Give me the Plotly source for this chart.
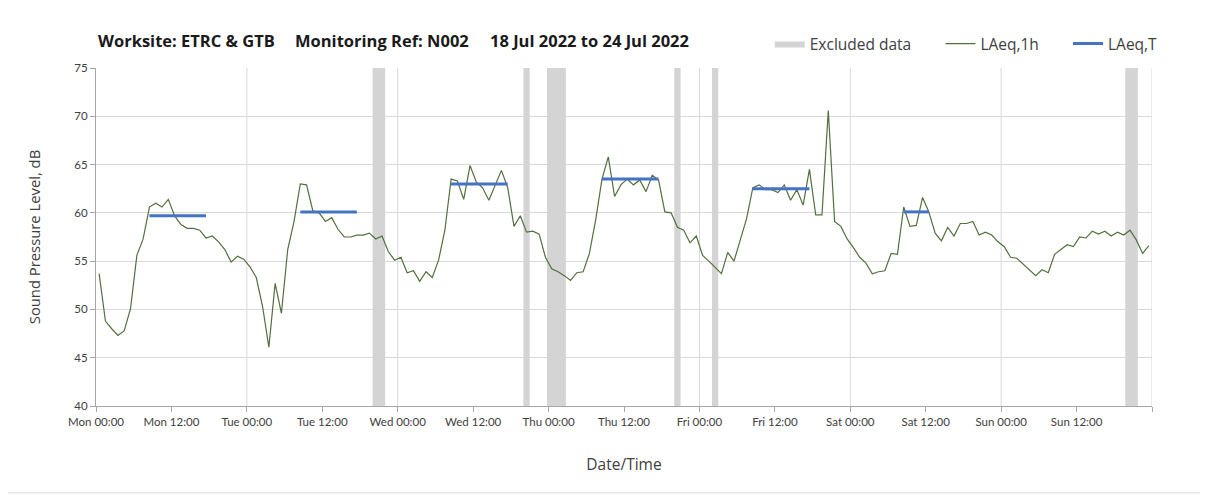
import pandas as pd
import plotly.graph_objects as go

# ---------------- data ----------------
start_time = "2022-07-18 00:30"   # first hourly LAeq,1h point (mid-hour)

laeq_1h_mon = [53.7, 48.8, 48.0, 47.3, 47.8, 50.1, 55.6, 57.3, 60.6, 61.0, 60.6, 61.4,
               59.7, 58.8, 58.4, 58.4, 58.2, 57.4, 57.6, 57.0, 56.2, 54.9, 55.5, 55.2]
laeq_1h_tue = [54.4, 53.3, 50.3, 46.1, 52.7, 49.6, 56.2, 59.1, 63.0, 62.9, 60.2, 60.0,
               59.1, 59.5, 58.3, 57.5, 57.5, 57.7, 57.7, 57.9, 57.3, 57.6, 56.0, 55.1]
laeq_1h_wed = [55.4, 53.8, 54.0, 52.9, 53.9, 53.3, 55.1, 58.2, 63.5, 63.3, 61.4, 64.9,
               63.2, 62.6, 61.3, 62.8, 64.4, 62.6, 58.6, 59.7, 58.0, 58.1, 57.8, 55.4]
laeq_1h_thu = [54.2, 53.9, 53.5, 53.0, 53.8, 53.9, 55.8, 59.3, 63.5, 65.8, 61.7, 62.9,
               63.5, 62.9, 63.4, 62.2, 63.9, 63.4, 60.1, 60.0, 58.5, 58.2, 56.9, 57.6]
laeq_1h_fri = [55.6, 55.0, 54.4, 53.7, 55.9, 55.0, 57.2, 59.4, 62.6, 62.9, 62.4, 62.4,
               62.1, 62.9, 61.3, 62.4, 60.8, 64.5, 59.8, 59.8, 70.6, 59.1, 58.6, 57.3]
laeq_1h_sat = [56.4, 55.4, 54.8, 53.7, 53.9, 54.0, 55.8, 55.7, 60.6, 58.6, 58.7, 61.6,
               60.1, 57.9, 57.1, 58.5, 57.6, 58.9, 58.9, 59.1, 57.7, 58.0, 57.7, 57.0]
laeq_1h_sun = [56.5, 55.4, 55.3, 54.7, 54.0, 53.5, 54.1, 53.8, 55.7, 56.2, 56.7, 56.5,
               57.5, 57.4, 58.1, 57.8, 58.1, 57.6, 58.0, 57.7, 58.2, 57.2, 55.8, 56.6]

laeq_t_start = ["2022-07-18 08:30", "2022-07-19 08:30", "2022-07-20 08:30",
                "2022-07-21 08:30", "2022-07-22 08:30", "2022-07-23 08:30"]
laeq_t_end = ["2022-07-18 17:30", "2022-07-19 17:30", "2022-07-20 17:30",
              "2022-07-21 17:30", "2022-07-22 17:30", "2022-07-23 12:30"]
laeq_t_values = [59.7, 60.1, 63.0, 63.5, 62.5, 60.1]

excl_start = ["2022-07-19 20:00", "2022-07-20 20:00", "2022-07-20 23:45",
              "2022-07-21 20:00", "2022-07-22 02:00", "2022-07-24 19:45"]
excl_end = ["2022-07-19 22:00", "2022-07-20 21:00", "2022-07-21 02:45",
            "2022-07-21 21:00", "2022-07-22 03:00", "2022-07-24 21:45"]

tick_labels = ["Mon 00:00", "Mon 12:00", "Tue 00:00", "Tue 12:00", "Wed 00:00",
               "Wed 12:00", "Thu 00:00", "Thu 12:00", "Fri 00:00", "Fri 12:00",
               "Sat 00:00", "Sat 12:00", "Sun 00:00", "Sun 12:00", ""]

axis_start = "2022-07-18 00:00"
axis_end = "2022-07-25 00:00"
y_min, y_max = 40, 75

title_parts = ["Worksite: ETRC &amp; GTB", "Monitoring Ref: N002",
               "18 Jul 2022 to 24 Jul 2022"]

# ---------------- build ----------------
laeq_1h = (laeq_1h_mon + laeq_1h_tue + laeq_1h_wed + laeq_1h_thu +
           laeq_1h_fri + laeq_1h_sat + laeq_1h_sun)
times = pd.date_range(start_time, periods=len(laeq_1h), freq="h")
tick_vals = pd.date_range(axis_start, periods=len(tick_labels), freq="12h")

ex_x, ex_y = [], []
for s, e in zip(excl_start, excl_end):
    ex_x += [s, e, e, s, s, None]
    ex_y += [y_min, y_min, y_max, y_max, y_min, None]

t_x, t_y = [], []
for s, e, v in zip(laeq_t_start, laeq_t_end, laeq_t_values):
    t_x += [s, e, None]
    t_y += [v, v, None]

TFONT = "Lato"
FONT = "Open Sans"
GRID = "#d9d9d9"
AXIS = "#a6a6a6"
NB = "\u00a0"

fig = go.Figure()
fig.add_trace(go.Scatter(x=ex_x, y=ex_y, mode="lines", fill="toself",
                         fillcolor="#d4d4d4", line=dict(width=0, color="#d4d4d4"),
                         name="Excluded data" + NB * 6, hoverinfo="skip"))
fig.add_trace(go.Scatter(x=times, y=laeq_1h, mode="lines",
                         line=dict(color="#52703d", width=1.2),
                         name="LAeq,1h" + NB * 6))
fig.add_trace(go.Scatter(x=t_x, y=t_y, mode="lines",
                         line=dict(color="#4472c4", width=3), name="LAeq,T"))

for d in pd.date_range("2022-07-19", axis_end, freq="D"):
    fig.add_vline(x=d, line=dict(color=GRID, width=1), layer="below")

fig.add_shape(type="rect", xref="paper", yref="paper",
              x0=-0.0852, x1=1.0464, y0=-0.257, y1=1.189,
              line=dict(color="#d9d9d9", width=1), layer="below")

for xs, txt in zip([96, 293, 488], title_parts):
    fig.add_annotation(text="<b>" + txt + "</b>", xref="paper", yref="paper",
                       x=(xs - 96) / 1056, y=(406 - 40) / 338, xanchor="left",
                       yanchor="middle", showarrow=False,
                       font=dict(size=16.5, color="#1a1a1a", family=FONT))

fig.update_layout(
    width=1208, height=497,
    margin=dict(l=88, r=64, t=60, b=99),
    paper_bgcolor="white", plot_bgcolor="white",
    font=dict(family=FONT, color="#404040"),
    legend=dict(orientation="h", x=0.638, xanchor="left", y=(406 - 44) / 338,
                yanchor="middle", font=dict(size=15.5, color="#404040", family=FONT),
                bgcolor="rgba(0,0,0,0)", itemwidth=30),
    showlegend=True,
    xaxis=dict(type="date", range=[axis_start, axis_end],
               tickvals=tick_vals, ticktext=tick_labels, showgrid=False,
               showline=True, linecolor=AXIS, linewidth=1, ticks="outside",
               ticklen=5, tickcolor=AXIS, tickfont=dict(size=11.5, color="#404040", family=TFONT),
               title=dict(text="Date/Time", font=dict(size=15.5, color="#404040"),
                          standoff=32)),
    yaxis=dict(range=[y_min, y_max], dtick=5, showgrid=True, gridcolor=GRID,
               showline=True, linecolor=AXIS, linewidth=1, ticks="outside",
               ticklen=5, tickcolor=AXIS, zeroline=False,
               tickfont=dict(size=11.5, color="#404040", family=TFONT),
               title=dict(text="Sound Pressure Level, dB",
                          font=dict(size=14.8, color="#404040"), standoff=30)),
)

fig.write_html("out.html")
